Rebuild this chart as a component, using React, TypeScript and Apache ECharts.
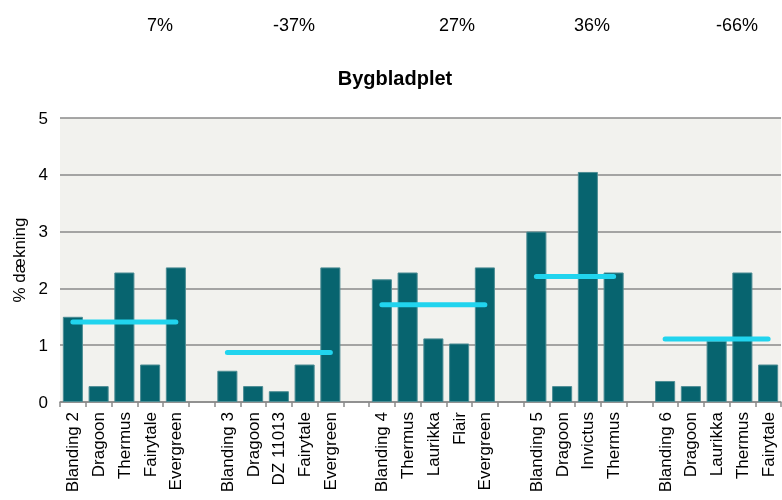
import React, { useEffect, useRef } from "react";
import * as echarts from "echarts";

const groupCategories: string[][] = [
  ["Blanding 2", "Dragoon", "Thermus", "Fairytale", "Evergreen"],
  ["Blanding 3", "Dragoon", "DZ 11013", "Fairytale", "Evergreen"],
  ["Blanding 4", "Thermus", "Laurikka", "Flair", "Evergreen"],
  ["Blanding 5", "Dragoon", "Invictus", "Thermus"],
  ["Blanding 6", "Dragoon", "Laurikka", "Thermus", "Fairytale"],
];
const groupValues: number[][] = [
  [1.5, 0.28, 2.28, 0.66, 2.37],
  [0.55, 0.28, 0.19, 0.66, 2.37],
  [2.16, 2.28, 1.12, 1.03, 2.37],
  [3.0, 0.28, 4.05, 2.28],
  [0.37, 0.28, 1.08, 2.28, 0.66],
];
const groupAverages: number[] = [1.41, 0.87, 1.71, 2.21, 1.11];
const groupChanges: string[] = ["7%", "-37%", "27%", "36%", "-66%"];
const changeX: number[] = [160, 294, 457, 592, 737];
const yTicks = { min: 0, max: 5, interval: 1 };

const categories: string[] = [];
const barData: (number | null)[] = [];
const avgData: (number | null)[] = [];
groupCategories.forEach((cats, gi) => {
  if (gi > 0) {
    categories.push("");
    barData.push(null);
    avgData.push(null);
  }
  cats.forEach((c, i) => {
    categories.push(c);
    barData.push(groupValues[gi][i]);
    avgData.push(groupAverages[gi]);
  });
});

const FONT = "'Liberation Sans', Arial, sans-serif";

export default function App() {
  const ref = useRef<HTMLDivElement>(null);
  useEffect(() => {
    if (!ref.current) return;
    const chart = echarts.init(ref.current, undefined, { renderer: "svg" });
    chart.setOption({
      animation: false,
      textStyle: { fontFamily: FONT },
      grid: {
        left: 60,
        right: 1,
        top: 118,
        bottom: 98,
        show: true,
        backgroundColor: "#f2f2ee",
        borderWidth: 0,
        outerBoundsMode: "none",
        containLabel: false,
      },
      graphic: [
        ...groupChanges.map((t, i) => ({
          type: "text",
          x: changeX[i],
          y: 25,
          style: {
            text: t,
            fontSize: 18,
            fontFamily: FONT,
            fill: "#000",
            textAlign: "center",
            textVerticalAlign: "middle",
          },
        })),
        {
          type: "text",
          x: 395,
          y: 78,
          style: {
            text: "Bygbladplet",
            fontSize: 20,
            fontWeight: "bold",
            fontFamily: FONT,
            fill: "#000",
            textAlign: "center",
            textVerticalAlign: "middle",
          },
        },
      ],
      xAxis: {
        type: "category",
        data: categories,
        axisLine: { lineStyle: { color: "#8a8a8a", width: 1.5 } },
        axisTick: { show: true, length: 5, lineStyle: { color: "#8a8a8a", width: 1.5 } },
        axisLabel: {
          rotate: 90,
          interval: 0,
          fontSize: 17,
          color: "#000",
          margin: 10,
          fontFamily: FONT,
        },
      },
      yAxis: {
        type: "value",
        min: yTicks.min,
        max: yTicks.max,
        interval: yTicks.interval,
        name: "% dækning",
        nameLocation: "middle",
        nameGap: 31,
        nameTextStyle: { fontSize: 17, color: "#000", fontFamily: FONT },
        axisLine: { show: false },
        axisTick: { show: false },
        axisLabel: { fontSize: 17, color: "#000", margin: 12, fontFamily: FONT },
        splitLine: { lineStyle: { color: "#8a8a8a", width: 1.5 } },
      },
      series: [
        {
          type: "bar",
          name: "Bygbladplet",
          data: barData,
          barCategoryGap: "22%",
          itemStyle: { color: "#07646f", borderColor: "#4d8d94", borderWidth: 1 },
        },
        {
          type: "line",
          name: "Gennemsnit",
          data: avgData,
          symbol: "none",
          connectNulls: false,
          z: 5,
          lineStyle: { color: "#21d4ee", width: 5, cap: "round" },
        },
      ],
    });
    return () => chart.dispose();
  }, []);
  return (
    <div
      ref={ref}
      style={{ position: "fixed", left: 0, top: 0, width: 782, height: 500 }}
    />
  );
}
